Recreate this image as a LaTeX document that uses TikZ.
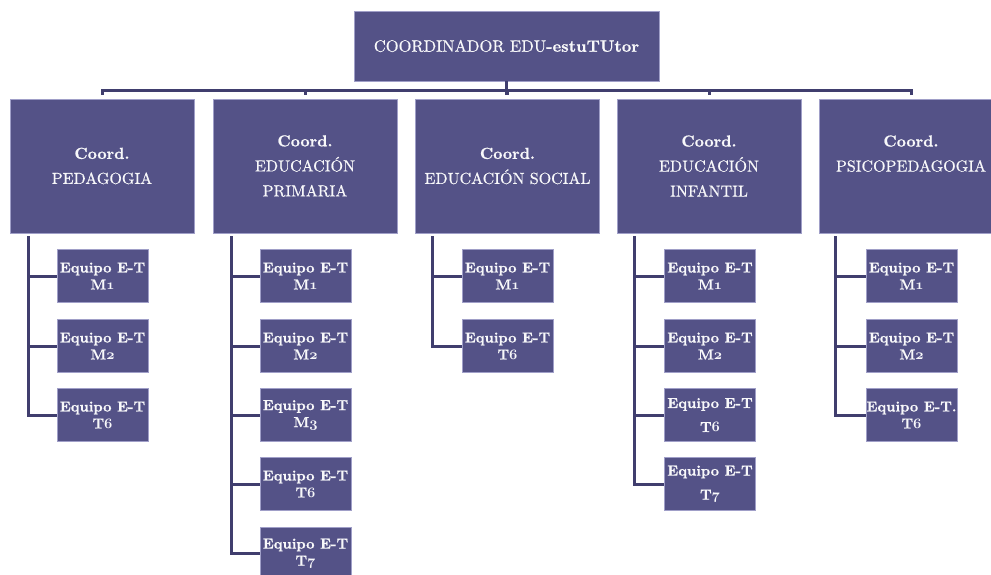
\documentclass[tikz,border=0pt]{standalone}
\usepackage{fontspec}
\newfontfamily\medfont{lmroman10-regular.otf}[FakeBold=0.6]
\newfontfamily\heavy{lmroman10-bold.otf}[FakeBold=0.8]
\usetikzlibrary{calc}
\definecolor{boxfill}{RGB}{84,82,135}
\definecolor{boxline}{RGB}{160,159,200}
\definecolor{conn}{RGB}{64,62,110}
\definecolor{txt}{RGB}{248,248,250}
\newcommand\osn[1]{{\usefont{OML}{cmm}{b}{it}#1}}
\tikzset{
  base/.style={draw=boxline, line width=0.8pt, fill=boxfill, text=txt, align=center, inner sep=0pt},
  topbox/.style={base, minimum width=305pt, minimum height=70pt, font=\fontsize{16.5}{20}\selectfont},
  coordbox/.style={base, minimum width=184pt, minimum height=134pt, font=\fontsize{16}{25}\selectfont},
  teambox/.style={base, minimum width=91pt, minimum height=53pt, font=\fontsize{14.5}{17}\selectfont\heavy},
  wideteam/.style={teambox, font=\fontsize{14.5}{24}\selectfont\heavy},
  link/.style={draw=conn, line width=3pt},
}
\begin{document}
\begin{tikzpicture}[x=1pt,y=-1pt]
\useasboundingbox (0,0) rectangle (991,574);
\clip (0,0) rectangle (991,574);
% top
\node[topbox] (top) at (506.5,46) {{\medfont COORDINADOR EDU}{\heavy -estuTUtor}};
% coordinators
\node[coordbox] (c1) at (102,166) {{\heavy Coord.}\\\medfont PEDAGOGIA};
\node[coordbox] (c2) at (305,166) {{\heavy Coord.}\\\medfont EDUCACIÓN\\\medfont PRIMARIA};
\node[coordbox] (c3) at (507.5,166) {{\heavy Coord.}\\\medfont EDUCACIÓN SOCIAL};
\node[coordbox] (c4) at (709,166) {{\heavy Coord.}\\\medfont EDUCACIÓN\\\medfont INFANTIL};
\node[coordbox] (c5) at (911,166) {{\heavy Coord.}\\\medfont PSICOPEDAGOGIA\\\mbox{}};
% bus
\coordinate (bus) at (0,90);
\draw[link] (top.south) -- ([yshift=-14pt]top.south);
\draw[link] ([yshift=4pt]c1.north) -- (c1.north |- bus) -- (c5.north |- bus) -- ([yshift=4pt]c5.north);
\foreach \c in {c2,c3,c4}{
  \draw[link] (\c.north |- bus) -- ([yshift=4pt]\c.north);
}
% teams column 1
\node[teambox] (t11) at (102.5,276) {Equipo E-T\\M\osn{1}};
\node[teambox] (t12) at (102.5,346) {Equipo E-T\\M\osn{2}};
\node[teambox] (t13) at (102.5,415) {Equipo E-T\\T\osn{6}};
% column 2
\node[teambox] (t21) at (305.5,276) {Equipo E-T\\M\osn{1}};
\node[teambox] (t22) at (305.5,346) {Equipo E-T\\M\osn{2}};
\node[teambox] (t23) at (305.5,415) {Equipo E-T\\M\osn{3}};
\node[teambox] (t24) at (305.5,484) {Equipo E-T\\T\osn{6}};
\node[teambox] (t25) at (305.5,553.5) {Equipo E-T\\T\osn{7}};
% column 3
\node[teambox] (t31) at (507.5,276) {Equipo E-T\\M\osn{1}};
\node[teambox] (t32) at (507.5,346) {Equipo E-T\\T\osn{6}};
% column 4
\node[teambox] (t41) at (710,276) {Equipo E-T\\M\osn{1}};
\node[teambox] (t42) at (710,346) {Equipo E-T\\M\osn{2}};
\node[wideteam] (t43) at (710,415) {Equipo E-T\\T\osn{6}};
\node[wideteam] (t44) at (710,484) {Equipo E-T\\T\osn{7}};
% column 5
\node[teambox] (t51) at (911.5,276) {Equipo E-T\\M\osn{1}};
\node[teambox] (t52) at (911.5,346) {Equipo E-T\\M\osn{2}};
\node[teambox] (t53) at (911.5,415) {Equipo E-T.\\T\osn{6}};
% branch lines
\coordinate (v1) at (28,236);
\coordinate (v2) at (231,236);
\coordinate (v3) at (432,236);
\coordinate (v4) at (634,236);
\coordinate (v5) at (835,236);
\foreach \t in {t11,t12,t13}{\draw[link] (v1) |- (\t.west);}
\foreach \t in {t21,t22,t23,t24,t25}{\draw[link] (v2) |- (\t.west);}
\foreach \t in {t31,t32}{\draw[link] (v3) |- (\t.west);}
\foreach \t in {t41,t42,t43,t44}{\draw[link] (v4) |- (\t.west);}
\foreach \t in {t51,t52,t53}{\draw[link] (v5) |- (\t.west);}
\end{tikzpicture}
\end{document}
